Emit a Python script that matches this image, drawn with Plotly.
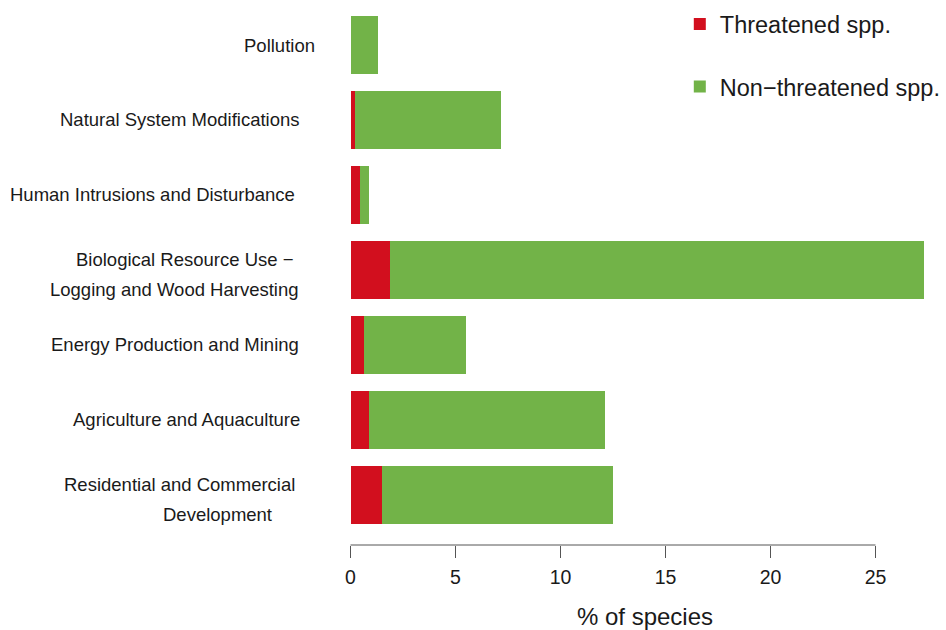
import plotly.graph_objects as go

# categories, bottom to top
categories = [
    "Residential and Commercial Development",
    "Agriculture and Aquaculture",
    "Energy Production and Mining",
    "Biological Resource Use - Logging and Wood Harvesting",
    "Human Intrusions and Disturbance",
    "Natural System Modifications",
    "Pollution",
]
# tick label lines as printed in the figure
label_lines = [
    ["Residential and Commercial ", "Development"],
    ["Agriculture and Aquaculture"],
    ["Energy Production and Mining"],
    ["Biological Resource Use \u2212", "Logging and Wood Harvesting"],
    ["Human Intrusions and Disturbance"],
    ["Natural System Modifications"],
    ["Pollution"],
]
threatened = [1.48, 0.86, 0.62, 1.90, 0.43, 0.20, 0.00]
non_threatened = [11.00, 11.24, 4.90, 25.39, 0.43, 6.99, 1.29]
x_ticks = [0, 5, 10, 15, 20, 25]

red = "#D20F1E"
green = "#72B348"
font = "Liberation Sans, Arial, sans-serif"

fig = go.Figure()
fig.add_trace(go.Bar(y=categories, x=threatened, orientation="h",
                     name="Threatened spp.", marker=dict(color=red, line=dict(width=0)),
                     legendgroup="a"))
fig.add_trace(go.Bar(y=categories, x=non_threatened, orientation="h",
                     name="Non\u2212threatened spp.", marker=dict(color=green, line=dict(width=0)),
                     legendgroup="b"))

# right edge of each label line (px from the plot's left edge) -- R put them oddly
right_edges = [[-48, -71], [-43], [-44], [-50, -44], [-48], [-43], [-28]]
for cat, lines, edges in zip(categories, label_lines, right_edges):
    n = len(lines)
    for i, (txt, e) in enumerate(zip(lines, edges)):
        shift = 0 if n == 1 else (10 if i == 0 else -20)
        fig.add_annotation(x=0, xref="paper", y=cat, yref="y", text=txt.strip(),
                           showarrow=False, xanchor="right", xshift=e, yshift=shift,
                           font=dict(family=font, size=18.5, color="#1a1a1a"))

# R style axis: line only from 0 to 25
fig.add_shape(type="line", xref="x", yref="paper", x0=x_ticks[0], x1=x_ticks[-1],
              y0=0, y1=0, line=dict(color="#555555", width=1))

fig.update_layout(
    width=946, height=630,
    margin=dict(l=345, r=1, t=0, b=85),
    paper_bgcolor="white", plot_bgcolor="white",
    barmode="stack", bargap=0.3 / 1.3,
    font=dict(family=font, color="#1a1a1a"),
    showlegend=True,
    legend=dict(x=0.558, y=0.996, xanchor="left", yanchor="top",
                traceorder="grouped", tracegroupgap=29,
                font=dict(size=23.5, family=font), bgcolor="rgba(0,0,0,0)"),
    xaxis=dict(range=[-0.262, 28.31], tickvals=x_ticks, ticks="outside", ticklen=12,
               tickcolor="#555555", showgrid=False, zeroline=False, showline=False,
               ticklabelstandoff=3, tickfont=dict(size=19.5),
               title=dict(text="% of species", font=dict(size=24), standoff=22)),
    yaxis=dict(range=[-0.667, 6.6], showticklabels=False, showgrid=False,
               zeroline=False, showline=False, ticks=""),
)

fig.write_html("out.html", config={"displayModeBar": False},
               post_script="document.body.style.margin='0';")
